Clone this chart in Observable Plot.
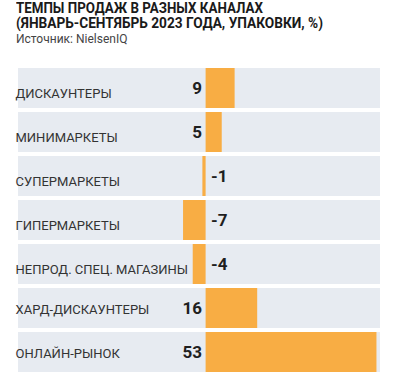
<!DOCTYPE html>
<html>
<head>
<meta charset="utf-8">
<script src="https://cdn.jsdelivr.net/npm/d3@7"></script>
<script src="https://cdn.jsdelivr.net/npm/@observablehq/plot@0.6"></script>
<style>
  body { margin: 0; background: #fff; font-family: Roboto, "Noto Sans", sans-serif; }
  #head { height: 60px; padding-left: 16px; padding-top: 1px; box-sizing: border-box; }
  .t { font-weight: 700; font-size: 14px; line-height: 15px; color: #1a1a1a; white-space: nowrap; transform-origin: left top; }
  .src { font-size: 12px; line-height: 14px; color: #444; margin-top: 1px; }
</style>
</head>
<body>
<div id="head">
  <div class="t" id="t1">ТЕМПЫ ПРОДАЖ В РАЗНЫХ КАНАЛАХ</div>
  <div class="t" id="t2">(ЯНВАРЬ-СЕНТЯБРЬ 2023 ГОДА, УПАКОВКИ, %)</div>
  <div class="src">Источник: NielsenIQ</div>
</div>
<div id="chart"></div>
<script>
const categories = ["ДИСКАУНТЕРЫ", "МИНИМАРКЕТЫ", "СУПЕРМАРКЕТЫ", "ГИПЕРМАРКЕТЫ", "НЕПРОД. СПЕЦ. МАГАЗИНЫ", "ХАРД-ДИСКАУНТЕРЫ", "ОНЛАЙН-РЫНОК"];
const values = [9, 5, -1, -7, -4, 16, 53];

const data = categories.map((c, i) => ({category: c, value: values[i], i}));

const chart = Plot.plot({
  width: 400,
  height: 315,
  marginTop: 6.7,
  marginBottom: 1.7,
  marginLeft: 18,
  marginRight: 20,
  style: {fontFamily: "Roboto, sans-serif", background: "transparent"},
  x: {domain: [-58.2, 54.1], axis: null},
  y: {domain: categories, axis: null, paddingInner: 0.097, paddingOuter: 0},
  marks: [
    Plot.cell(data, {y: "category", fill: "#e7ebf1", inset: 0}),
    Plot.barX(data, {y: "category", x1: 0, x2: "value", fill: "#f8ad44", inset: 0}),
    Plot.text(data.filter(d => d.i < 5), {y: "category", text: "category", frameAnchor: "left", textAnchor: "start", dx: -3, dy: 5.5, fontSize: 13, fill: "#333"}),
    Plot.text(data.filter(d => d.i >= 5), {y: "category", text: "category", frameAnchor: "left", textAnchor: "start", dx: -3, dy: 1, fontSize: 13, fill: "#333"}),
    Plot.text(data.filter(d => d.value >= 0), {y: "category", x: 0, text: d => String(d.value), textAnchor: "end", dx: -4, fontSize: 17, fontWeight: 700, fill: "#1f1f1f"}),
    Plot.text(data.filter(d => d.value < 0), {y: "category", x: 0, text: d => String(d.value), textAnchor: "start", dx: 5, fontSize: 17, fontWeight: 700, fill: "#1f1f1f"})
  ]
});
document.getElementById("chart").appendChild(chart);

// condense title lines to match the narrow headline face
function fit(id, target) {
  const el = document.getElementById(id);
  const r = document.createRange(); r.selectNodeContents(el);
  const w = r.getBoundingClientRect().width;
  el.style.transform = `scaleX(${target / w})`;
}
fit("t1", 247);
fit("t2", 307);
</script>
</body>
</html>
